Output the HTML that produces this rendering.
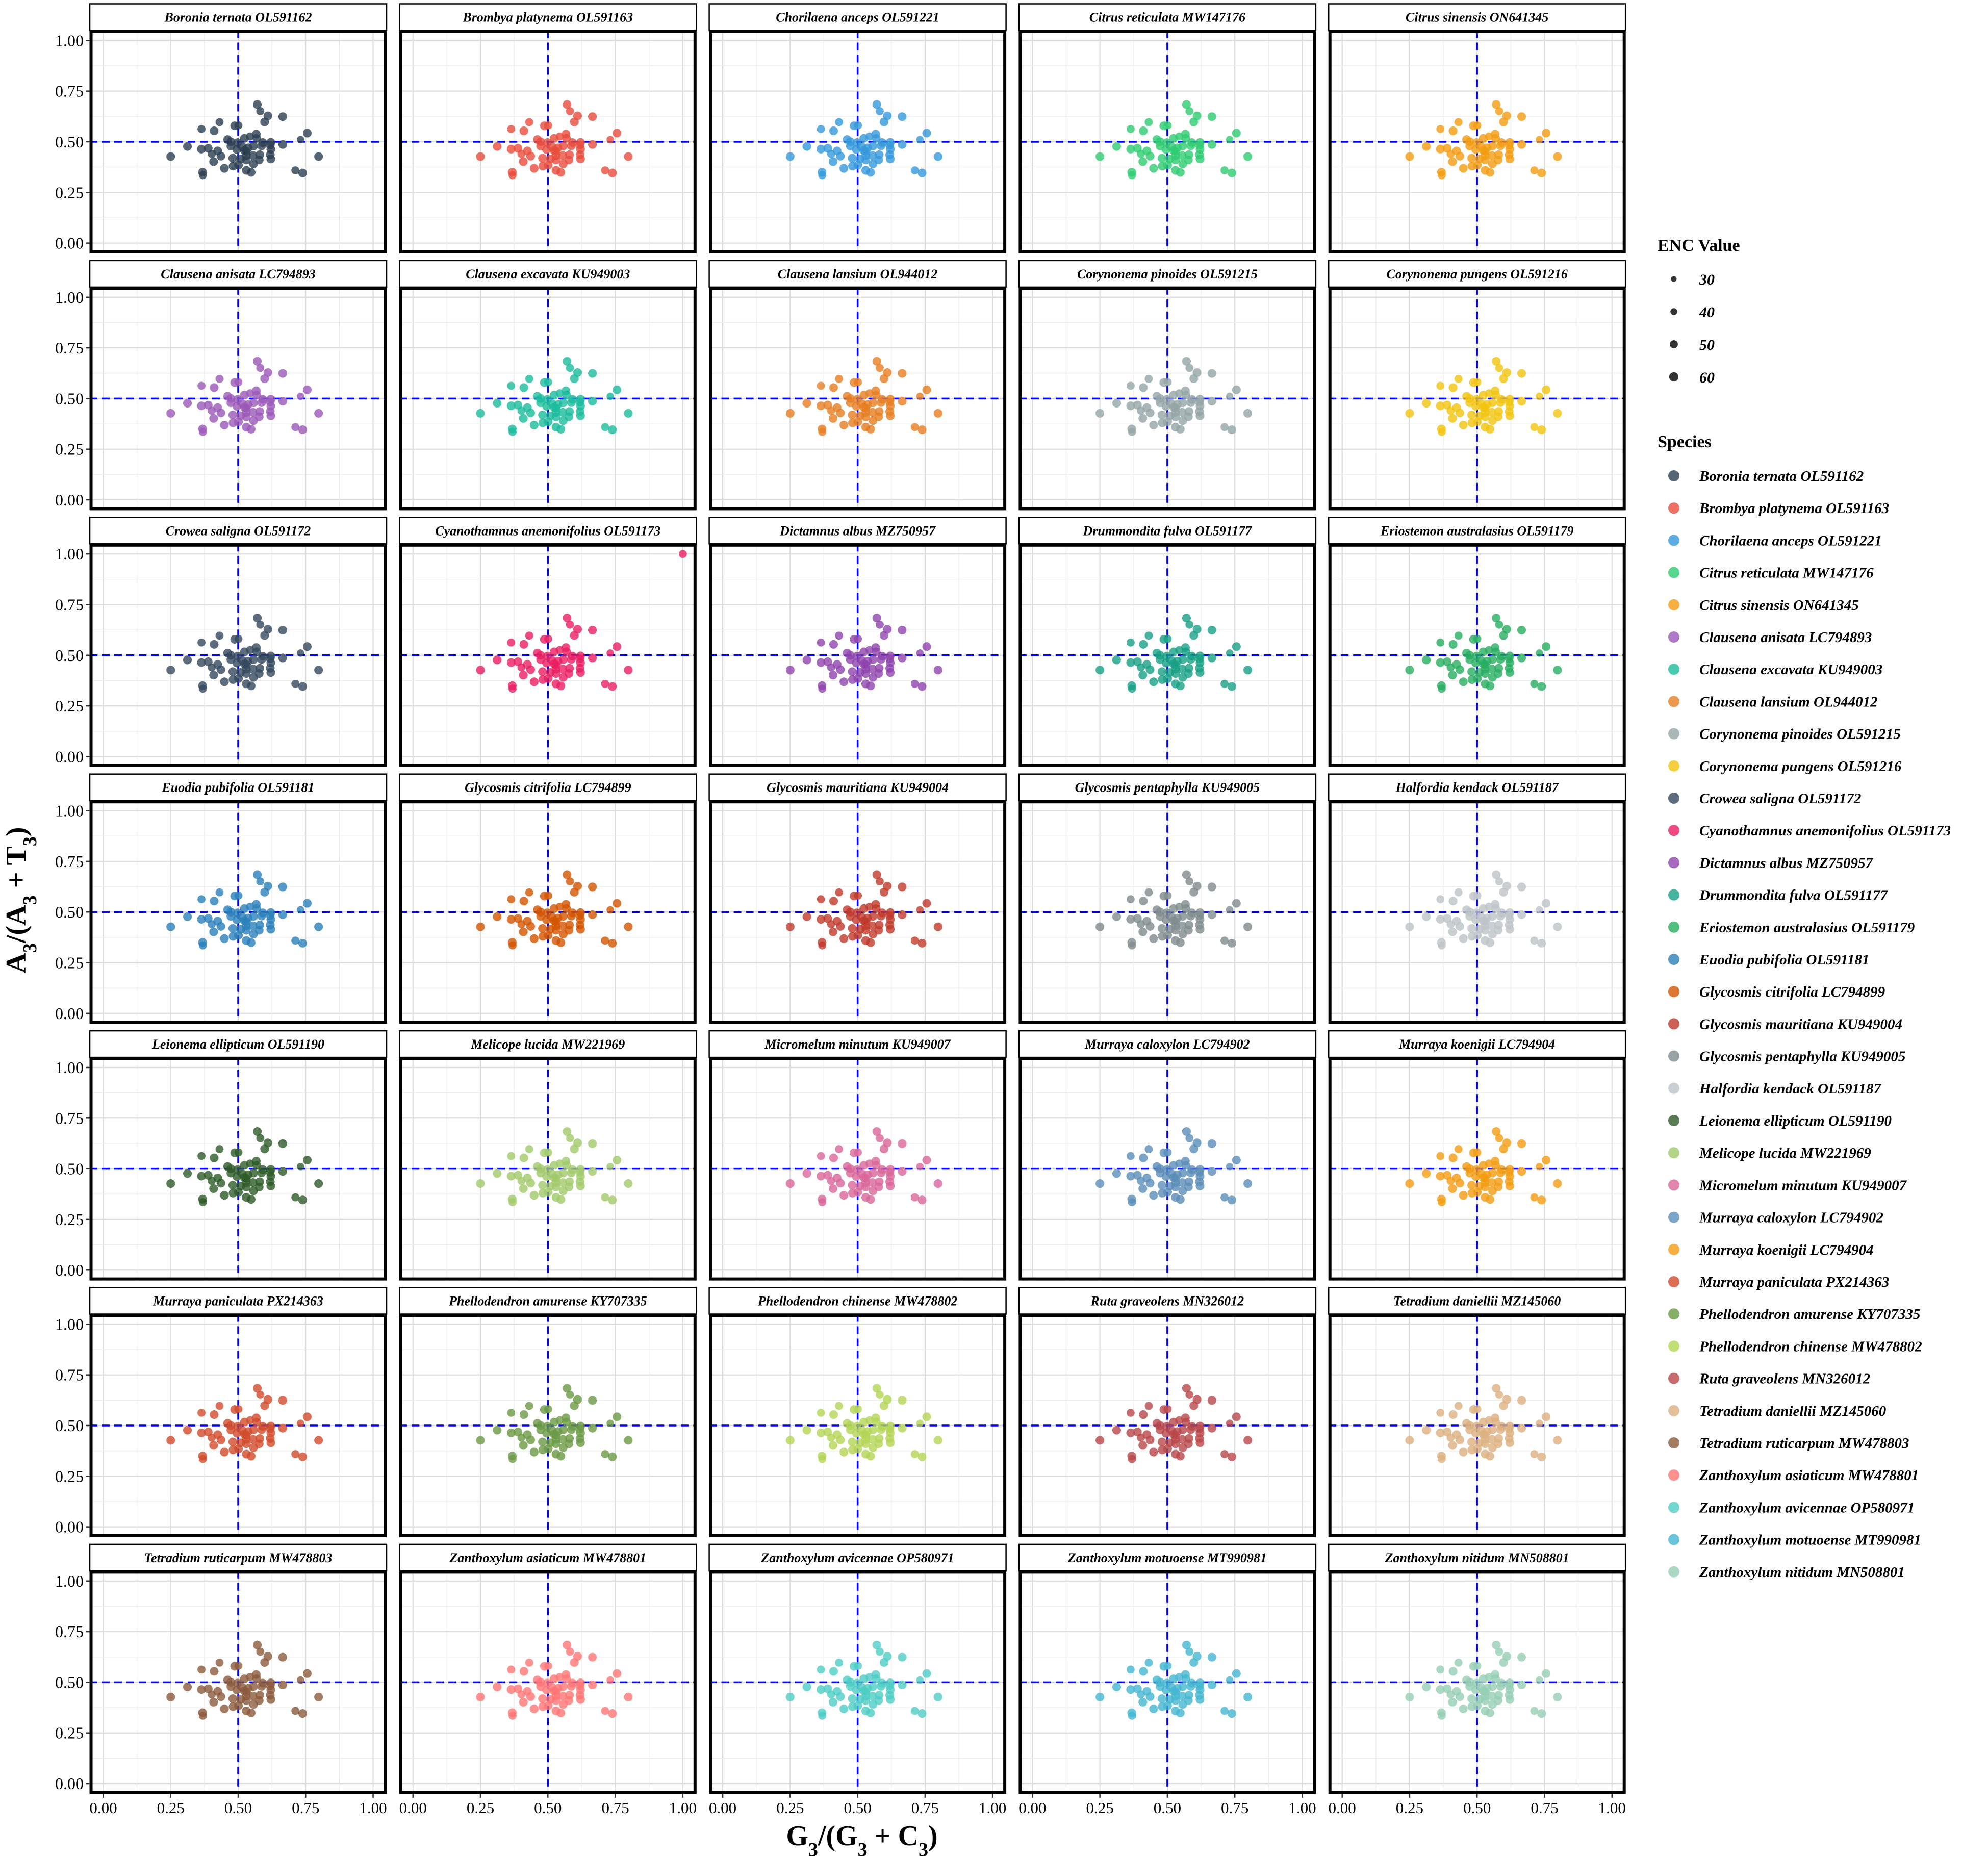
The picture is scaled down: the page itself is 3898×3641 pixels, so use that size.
<!DOCTYPE html>
<html><head><meta charset="utf-8"><style>
html,body{margin:0;padding:0;background:#fff;}
svg{display:block;}
</style></head><body>
<svg id="chart" xmlns="http://www.w3.org/2000/svg" width="3898" height="3641" viewBox="0 0 3898 3641"></svg>
<script>
const speciesNames=["Boronia ternata OL591162","Brombya platynema OL591163","Chorilaena anceps OL591221","Citrus reticulata MW147176","Citrus sinensis ON641345","Clausena anisata LC794893","Clausena excavata KU949003","Clausena lansium OL944012","Corynonema pinoides OL591215","Corynonema pungens OL591216","Crowea saligna OL591172","Cyanothamnus anemonifolius OL591173","Dictamnus albus MZ750957","Drummondita fulva OL591177","Eriostemon australasius OL591179","Euodia pubifolia OL591181","Glycosmis citrifolia LC794899","Glycosmis mauritiana KU949004","Glycosmis pentaphylla KU949005","Halfordia kendack OL591187","Leionema ellipticum OL591190","Melicope lucida MW221969","Micromelum minutum KU949007","Murraya caloxylon LC794902","Murraya koenigii LC794904","Murraya paniculata PX214363","Phellodendron amurense KY707335","Phellodendron chinense MW478802","Ruta graveolens MN326012","Tetradium daniellii MZ145060","Tetradium ruticarpum MW478803","Zanthoxylum asiaticum MW478801","Zanthoxylum avicennae OP580971","Zanthoxylum motuoense MT990981","Zanthoxylum nitidum MN508801"];
const speciesColors=["#2c3e50","#e74c3c","#3498db","#2ecc71","#f39c12","#9b59b6","#1abc9c","#e67e22","#95a5a6","#f1c40f","#34495e","#e91e63","#8e44ad","#16a085","#27ae60","#2980b9","#d35400","#c0392b","#7f8c8d","#bdc3c7","#2d5a27","#a1c96a","#d9679a","#5b8db8","#f39c12","#d14b2c","#6a9a45","#b4d455","#b9474a","#dcb07f","#8b5a3c","#ff7675","#4ecdc4","#45b7d1","#96ceb4"];
const gc3=[.571,.582,.610,.665,.598,.431,.487,.501,.364,.411,.756,.567,.544,.523,.731,.461,.569,.473,.498,.591,.621,.665,.312,.364,.389,.473,.516,.557,.587,.619,.424,.495,.530,.621,.402,.436,.250,.530,.555,.580,.619,.798,.480,.509,.530,.578,.621,.409,.557,.481,.501,.449,.530,.548,.712,.739,.368,.369,.523,.537];
const at3=[.684,.651,.628,.624,.598,.597,.579,.581,.563,.554,.543,.538,.526,.517,.511,.511,.517,.500,.496,.496,.497,.487,.477,.464,.468,.479,.474,.479,.480,.483,.455,.462,.453,.463,.440,.429,.427,.432,.432,.436,.436,.427,.419,.415,.410,.410,.415,.402,.391,.380,.385,.369,.359,.349,.359,.346,.350,.335,.457,.470];
const enc=[55,50,55,55,55,50,55,50,50,55,55,55,50,55,45,55,55,55,55,55,55,55,55,55,55,55,55,55,55,55,55,55,55,55,50,55,55,55,55,55,55,55,55,55,55,55,55,55,55,55,55,55,55,55,50,55,55,50,55,55];
const extraIdx=[11];const extraX=[1.0];const extraY=[1.0];const extraEnc=[50];
const tickVals=[0,0.25,0.5,0.75,1];
const tickLabels=["0.00","0.25","0.50","0.75","1.00"];
const encLegend=[30,40,50,60];

const NS="http://www.w3.org/2000/svg";
const svg=document.getElementById('chart');
function mk(tag,attrs,parent){const e=document.createElementNS(NS,tag);for(const k in attrs)e.setAttribute(k,attrs[k]);(parent||svg).appendChild(e);return e;}
const L0=176,PITCH=607.3,PW=582,T0=7.5,RP=503.4,SH=52,PH=437;
function rsize(v){return 4+ (v-20)*0.13;}
for(let i=0;i<speciesNames.length;i++){
  const c=i%5,r=Math.floor(i/5);
  const px=L0+c*PITCH,st=T0+r*RP,py=st+SH;
  const g=mk('g',{});
  
  
  const sx=v=>px+(v+0.05)/1.1*PW, sy=v=>py+PH-(v+0.05)/1.1*PH;
  const strip=mk('rect',{x:px,y:st,width:PW,height:SH,fill:'#fff',stroke:'#000','stroke-width':2.5},g);
  
  
  const t=mk('text',{x:px+PW/2,y:st+SH/2+9,'text-anchor':'middle','font-family':'Liberation Serif, serif','font-style':'italic','font-weight':'bold','font-size':26},g);
  t.textContent=speciesNames[i];
  
  
  for(let k=0;k<9;k++){const v=k*0.125;const w=k%2?1.2:2.2;const col=k%2?'#ececec':'#dcdcdc';
    mk('line',{x1:sx(v),x2:sx(v),y1:py,y2:py+PH,stroke:col,'stroke-width':w},g);
    mk('line',{x1:px,x2:px+PW,y1:sy(v),y2:sy(v),stroke:col,'stroke-width':w},g);}
  mk('line',{x1:px,x2:px+PW,y1:sy(0.5),y2:sy(0.5),stroke:'#0000ff','stroke-width':3.5,'stroke-dasharray':'15 9'},g);
  mk('line',{x1:sx(0.5),x2:sx(0.5),y1:py,y2:py+PH,stroke:'#0000ff','stroke-width':3.5,'stroke-dasharray':'15 9'},g);
  for(let j=0;j<gc3.length;j++){
    const p=mk('circle',{cx:sx(gc3[j]),cy:sy(at3[j]),r:rsize(enc[j]),fill:speciesColors[i],'fill-opacity':0.8},g);
    
    
  }
  for(let e=0;e<extraIdx.length;e++) if(extraIdx[e]===i){
    const p=mk('circle',{cx:sx(extraX[e]),cy:sy(extraY[e]),r:rsize(extraEnc[e]),fill:speciesColors[i],'fill-opacity':0.8},g);
    
    
  }
  const fr=mk('rect',{x:px+2.5,y:py+2.5,width:PW-5,height:PH-5,fill:'none',stroke:'#000','stroke-width':6},g);
  
  
  if(c===0){for(let k=0;k<tickVals.length;k++){
    mk('line',{x1:px-8,x2:px,y1:sy(tickVals[k]),y2:sy(tickVals[k]),stroke:'#333','stroke-width':2.5},g);
    const tl=mk('text',{x:px-12,y:sy(tickVals[k])+11,'text-anchor':'end','font-family':'Liberation Serif, serif','font-size':32},g);
    tl.textContent=tickLabels[k];
    
    }}
  if(r===6){for(let k=0;k<tickVals.length;k++){
    mk('line',{x1:sx(tickVals[k]),x2:sx(tickVals[k]),y1:py+PH,y2:py+PH+8,stroke:'#333','stroke-width':2.5},g);
    const tl=mk('text',{x:sx(tickVals[k]),y:py+PH+38,'text-anchor':'middle','font-family':'Liberation Serif, serif','font-size':31},g);
    tl.textContent=tickLabels[k];
    
    }}
}
const yt=mk('text',{x:0,y:0,transform:'translate(50,1765) rotate(-90)','text-anchor':'middle','font-family':'Liberation Serif, serif','font-weight':'bold','font-size':56});
yt.innerHTML='A<tspan baseline-shift="sub" font-size="38">3</tspan>/(A<tspan baseline-shift="sub" font-size="38">3</tspan> + T<tspan baseline-shift="sub" font-size="38">3</tspan>)';


const xt=mk('text',{x:1690,y:3618,'text-anchor':'middle','font-family':'Liberation Serif, serif','font-weight':'bold','font-size':56});
xt.innerHTML='G<tspan baseline-shift="sub" font-size="38">3</tspan>/(G<tspan baseline-shift="sub" font-size="38">3</tspan> + C<tspan baseline-shift="sub" font-size="38">3</tspan>)';


const lt=mk('text',{x:3250,y:492,'font-family':'Liberation Serif, serif','font-weight':'bold','font-size':34});
lt.textContent='ENC Value';


for(let k=0;k<encLegend.length;k++){
  const y=547+k*64;
  const d=mk('circle',{cx:3282,cy:y,r:5.5+k*1.2,fill:'#333'});
  
  
  const tx=mk('text',{x:3332,y:y+11,'font-family':'Liberation Serif, serif','font-style':'italic','font-weight':'bold','font-size':30});
  tx.textContent=encLegend[k];
  
  
}
const st2=mk('text',{x:3250,y:877,'font-family':'Liberation Serif, serif','font-weight':'bold','font-size':34});
st2.textContent='Species';


for(let i=0;i<speciesNames.length;i++){
  const y=933+i*63.2;
  const d=mk('circle',{cx:3282,cy:y,r:11,fill:speciesColors[i],'fill-opacity':0.8});
  
  
  const tx=mk('text',{x:3332,y:y+10,'font-family':'Liberation Serif, serif','font-style':'italic','font-weight':'bold','font-size':29});
  tx.textContent=speciesNames[i];
  
  
}
</script>
</body></html>
